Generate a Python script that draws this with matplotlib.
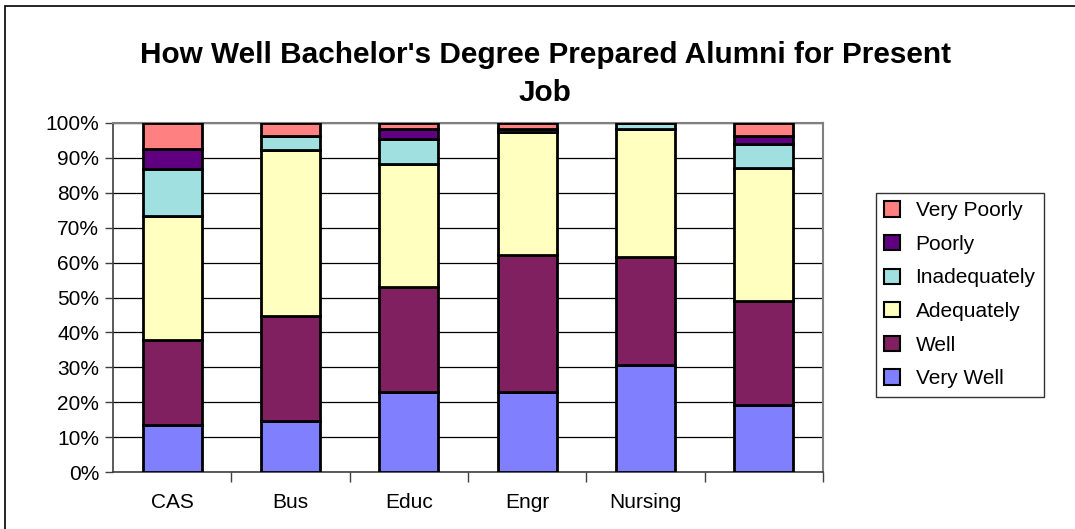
import matplotlib.pyplot as plt
import numpy as np
from matplotlib.patches import Rectangle

plt.rcParams['font.family'] = ['Liberation Sans', 'DejaVu Sans']

# Datos
colleges = ["CAS", "Bus", "Educ", "Engr", "Nursing", ""]
very_well = [13.6, 14.5, 22.8, 23.0, 30.6, 19.3]
well = [24.1, 30.1, 30.1, 39.3, 30.9, 29.6]
adequately = [35.7, 47.8, 35.4, 35.1, 36.9, 38.2]
inadequately = [13.5, 3.8, 7.1, 1.0, 1.6, 6.9]
poorly = [5.6, 0.0, 2.9, 0.0, 0.0, 2.4]
very_poorly = [7.5, 3.8, 1.7, 1.6, 0.0, 3.6]

series = [
    ("Very Well", very_well, "#8080FF"),
    ("Well", well, "#802060"),
    ("Adequately", adequately, "#FFFFC0"),
    ("Inadequately", inadequately, "#A0E0E0"),
    ("Poorly", poorly, "#600080"),
    ("Very Poorly", very_poorly, "#FF8080"),
]

fig = plt.figure(figsize=(10.75, 5.29), dpi=100)
ax = fig.add_axes([113 / 1075, 1 - 472 / 529, 710 / 1075, 349 / 529])

x = np.arange(len(colleges))
bottom = np.zeros(len(colleges))
handles = []
for name, vals, col in series:
    vals = np.array(vals)
    b = ax.bar(x, vals, 0.5, bottom=bottom, color=col, edgecolor="black",
               linewidth=2, label=name, zorder=3)
    handles.append(b)
    bottom += vals

ax.set_xlim(-0.5, len(colleges) - 0.5)
ax.set_ylim(0, 100)
ax.set_yticks(np.arange(0, 101, 10))
ax.set_yticklabels([f"{v}%" for v in range(0, 101, 10)], fontsize=15)
ax.yaxis.grid(True, color="black", linewidth=0.9, zorder=0)

ax.set_xticks(x)
ax.set_xticklabels(colleges, fontsize=15)
ax.tick_params(axis="x", length=0, pad=15)
ax.set_xticks(np.arange(0.5, len(colleges) - 0.5 + 0.01, 1), minor=True)
ax.tick_params(axis="x", which="minor", length=7, width=1, color="#404040", direction="out")
ax.tick_params(axis="y", length=6, width=1, color="#404040", pad=4)

for s in ["top", "right"]:
    ax.spines[s].set_color("#808080")
    ax.spines[s].set_linewidth(1.5)
for s in ["left", "bottom"]:
    ax.spines[s].set_color("#404040")
    ax.spines[s].set_linewidth(1.2)

fig.text(545 / 1075, 1 - 74 / 529,
         "How Well Bachelor's Degree Prepared Alumni for Present\nJob",
         ha="center", va="center", fontsize=21.4, fontweight="bold", linespacing=1.47)

leg = fig.legend(handles[::-1], [s[0] for s in series][::-1],
                 loc="upper left", bbox_to_anchor=(876 / 1075, 1 - 193 / 529),
                 fontsize=15, frameon=True, fancybox=False, edgecolor="black",
                 handlelength=0.75, handleheight=0.75, handletextpad=0.75,
                 labelspacing=0.7, borderpad=0.4, borderaxespad=0)
leg.get_frame().set_linewidth(1)
for h in leg.legend_handles:
    h.set_linewidth(1.5)

# Borde exterior
fig.patches.append(Rectangle((5 / 1075, -0.1), 1.2, 1 - 6 / 529 + 0.1,
                             transform=fig.transFigure, fill=False,
                             edgecolor="black", linewidth=1.2))

fig.savefig("out.png", dpi=100)
